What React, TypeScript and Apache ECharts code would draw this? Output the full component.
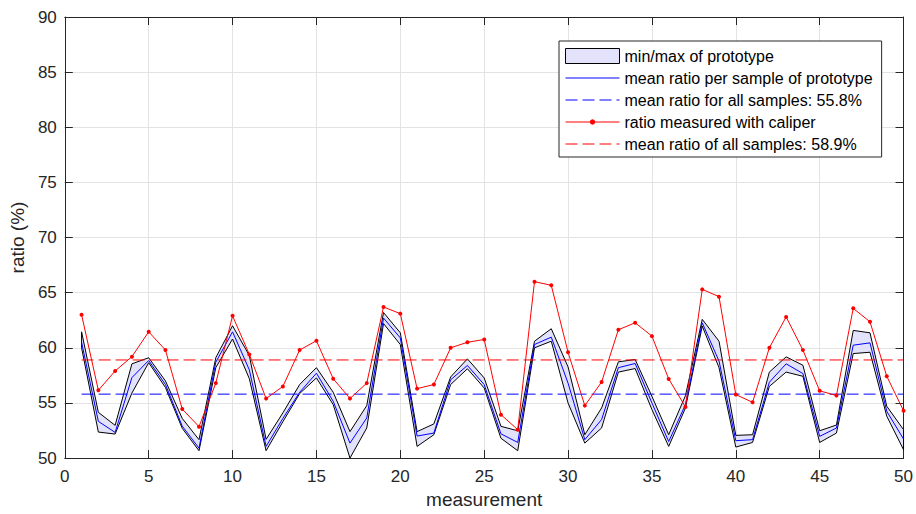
import React, { useEffect, useRef } from "react";
import * as echarts from "echarts";

// measurement index
const MEASUREMENT = [
  1, 2, 3, 4, 5, 6, 7, 8, 9, 10, 11, 12, 13, 14, 15, 16, 17, 18, 19, 20, 21, 22, 23, 24, 25,
  26, 27, 28, 29, 30, 31, 32, 33, 34, 35, 36, 37, 38, 39, 40, 41, 42, 43, 44, 45, 46, 47, 48, 49, 50,
];

// prototype: max per sample
const PROTO_MAX = [
  61.45, 54.15, 52.97, 58.55, 59.1, 57.0, 53.6, 51.67, 59.1, 62.0,
  59.3, 51.7, 54.1, 56.67, 58.2, 55.97, 52.4, 54.76, 63.2, 61.36,
  52.4, 53.1, 57.36, 59.0, 57.27, 52.88, 52.48, 60.6, 61.73, 58.27,
  52.12, 54.55, 58.73, 58.94, 55.6, 52.12, 55.67, 62.58, 60.6, 52.06,
  52.12, 57.8, 59.18, 58.42, 52.48, 53.0, 61.58, 61.36, 54.7, 52.58,
];

// prototype: mean per sample
const PROTO_MEAN = [
  60.5, 53.33, 52.33, 57.3, 58.85, 56.67, 52.9, 50.9, 58.7, 61.45,
  58.0, 51.06, 53.6, 55.97, 57.7, 55.15, 51.36, 53.64, 62.7, 60.9,
  52.0, 52.27, 57.1, 58.4, 56.67, 52.2, 51.42, 60.3, 60.97, 56.8,
  51.67, 53.5, 58.2, 58.58, 55.0, 51.5, 54.85, 62.27, 58.8, 51.58,
  51.67, 56.88, 58.55, 57.67, 51.97, 52.73, 60.24, 60.45, 54.24, 51.73,
];

// prototype: min per sample
const PROTO_MIN = [
  60.0, 52.36, 52.18, 55.9, 58.65, 56.4, 52.7, 50.67, 58.2, 60.8,
  57.2, 50.67, 53.3, 55.85, 57.27, 54.85, 50.0, 52.73, 62.2, 60.3,
  51.06, 52.12, 56.67, 58.1, 56.36, 51.8, 50.67, 60.0, 60.6, 55.0,
  51.36, 52.73, 57.8, 58.12, 54.4, 51.06, 54.55, 61.97, 58.2, 51.0,
  51.42, 56.5, 57.8, 57.42, 51.42, 52.27, 59.48, 59.6, 53.8, 50.76,
];

// caliper measurement
const CALIPER = [
  63.0, 56.15, 57.9, 59.2, 61.45, 59.8, 54.45, 52.85, 56.8, 62.9,
  59.4, 55.4, 56.5, 59.8, 60.64, 57.2, 55.4, 56.8, 63.7, 63.1,
  56.3, 56.67, 60.0, 60.5, 60.76, 53.94, 52.58, 66.0, 65.67, 59.6,
  54.76, 56.9, 61.64, 62.27, 61.06, 57.18, 54.64, 65.3, 64.64, 55.76,
  55.06, 60.0, 62.8, 59.8, 56.1, 55.67, 63.58, 62.36, 57.42, 54.3,
];

const MEAN_PROTO_ALL = 55.8;
const MEAN_CALIPER_ALL = 58.9;

const X_TICKS = { min: 0, max: 50, interval: 5 };
const Y_TICKS = { min: 50, max: 90, interval: 5 };

const NAMES = {
  band: "min/max of prototype",
  mean: "mean ratio per sample of prototype",
  meanAll: "mean ratio for all samples: 55.8%",
  caliper: "ratio measured with caliper",
  caliperAll: "mean ratio of all samples: 58.9%",
};

const FONT = "'Liberation Sans', Arial, Helvetica, sans-serif";
const AXIS_COLOR = "#262626";
const GRID_COLOR = "#e3e3e3";
const FILL = "#e2e3fa";
const DASH = [12, 5];

const LINE_ICON = "path://M0,0M0,7.5L54,7.5M54,15";
const DOT_ICON =
  "path://M0,0M0,7.5L54,7.5M54,15M29.2,7.5A2.2,2.2,0,1,1,24.8,7.5A2.2,2.2,0,1,1,29.2,7.5Z";

export default function App() {
  const ref = useRef<HTMLDivElement>(null);

  useEffect(() => {
    if (!ref.current) return;
    const chart = echarts.init(ref.current, undefined, { renderer: "svg" });

    const pairs = (ys: number[]) => MEASUREMENT.map((x, i) => [x, ys[i]]);
    const bandData = MEASUREMENT.map((x, i) => [x, PROTO_MIN[i], PROTO_MAX[i]]);
    const first = MEASUREMENT[0];
    const last = MEASUREMENT[MEASUREMENT.length - 1];

    const axisCommon = {
      axisLine: { show: true, onZero: false, lineStyle: { color: AXIS_COLOR, width: 1 } },
      axisTick: { show: true, inside: true, length: 8, lineStyle: { color: AXIS_COLOR, width: 1 } },
    };

    chart.setOption({
      animation: false,
      textStyle: { fontFamily: FONT },
      grid: { left: 64, right: 12, top: 17, bottom: 55, containLabel: false },
      xAxis: [
        {
          type: "value",
          ...X_TICKS,
          position: "bottom",
          ...axisCommon,
          axisLabel: { color: AXIS_COLOR, fontSize: 17, margin: 10, fontFamily: FONT },
          splitLine: { show: true, lineStyle: { color: GRID_COLOR, width: 1 } },
          name: "measurement",
          nameLocation: "middle",
          nameGap: 31,
          nameTextStyle: { color: AXIS_COLOR, fontSize: 19, fontFamily: FONT },
        },
        {
          type: "value",
          ...X_TICKS,
          position: "top",
          ...axisCommon,
          axisLabel: { show: false },
          splitLine: { show: false },
        },
      ],
      yAxis: [
        {
          type: "value",
          ...Y_TICKS,
          position: "left",
          ...axisCommon,
          axisLabel: { color: AXIS_COLOR, fontSize: 17, margin: 8, fontFamily: FONT },
          splitLine: { show: true, lineStyle: { color: GRID_COLOR, width: 1 } },
          name: "ratio (%)",
          nameLocation: "middle",
          nameGap: 33,
          nameTextStyle: { color: AXIS_COLOR, fontSize: 19, fontFamily: FONT },
        },
        {
          type: "value",
          ...Y_TICKS,
          position: "right",
          ...axisCommon,
          axisLabel: { show: false },
          splitLine: { show: false },
        },
      ],
      legend: {
        orient: "vertical",
        left: 559,
        top: 41,
        padding: [7, 9, 5, 6],
        itemGap: 6,
        itemWidth: 54,
        itemHeight: 15,
        backgroundColor: "#ffffff",
        borderColor: AXIS_COLOR,
        borderWidth: 1,
        borderRadius: 0,
        selectedMode: false,
        textStyle: { color: "#000", fontSize: 16, fontFamily: FONT },
        data: [
          {
            name: NAMES.band,
            icon: "rect",
            itemStyle: { color: FILL, borderColor: "#000", borderWidth: 1, opacity: 1 },
          },
          {
            name: NAMES.mean,
            icon: LINE_ICON,
            itemStyle: { color: "#0000ff", borderColor: "#0000ff", borderWidth: 1, opacity: 1 },
          },
          {
            name: NAMES.meanAll,
            icon: LINE_ICON,
            itemStyle: {
              color: "#0000ff",
              borderColor: "#0000ff",
              borderWidth: 1,
              borderType: DASH,
              opacity: 1,
            },
          },
          {
            name: NAMES.caliper,
            icon: DOT_ICON,
            itemStyle: { color: "#ff0000", borderColor: "#ff0000", borderWidth: 1, opacity: 1 },
          },
          {
            name: NAMES.caliperAll,
            icon: LINE_ICON,
            itemStyle: {
              color: "#ff0000",
              borderColor: "#ff0000",
              borderWidth: 1,
              borderType: DASH,
              opacity: 1,
            },
          },
        ],
      },
      series: [
        {
          name: NAMES.band,
          type: "custom",
          data: bandData,
          encode: { x: 0, y: [1, 2] },
          itemStyle: { color: FILL, borderColor: "#000" },
          z: 2,
          silent: true,
          renderItem: (params: any, api: any) => {
            if (params.dataIndex !== 0) return null;
            const pts: number[][] = [];
            for (let i = 0; i < bandData.length; i++) {
              pts.push(api.coord([bandData[i][0], bandData[i][2]]));
            }
            for (let i = bandData.length - 1; i >= 0; i--) {
              pts.push(api.coord([bandData[i][0], bandData[i][1]]));
            }
            return {
              type: "polygon",
              shape: { points: pts },
              style: { fill: FILL, stroke: "#000", lineWidth: 1, lineJoin: "miter" },
            };
          },
        },
        {
          name: NAMES.mean,
          type: "line",
          data: pairs(PROTO_MEAN),
          symbol: "none",
          lineStyle: { color: "#0000ff", width: 1 },
          itemStyle: { color: "#0000ff" },
          z: 3,
        },
        {
          name: NAMES.meanAll,
          type: "line",
          data: [
            [first, MEAN_PROTO_ALL],
            [last, MEAN_PROTO_ALL],
          ],
          symbol: "none",
          lineStyle: { color: "#0000ff", width: 1, type: DASH },
          itemStyle: { color: "#0000ff" },
          z: 4,
        },
        {
          name: NAMES.caliper,
          type: "line",
          data: pairs(CALIPER),
          symbol: "circle",
          symbolSize: 4,
          lineStyle: { color: "#ff0000", width: 1 },
          itemStyle: { color: "#ff0000" },
          z: 5,
        },
        {
          name: NAMES.caliperAll,
          type: "line",
          data: [
            [first, MEAN_CALIPER_ALL],
            [last, MEAN_CALIPER_ALL],
          ],
          symbol: "none",
          lineStyle: { color: "#ff0000", width: 1, type: DASH },
          itemStyle: { color: "#ff0000" },
          z: 5,
        },
      ],
    });

    return () => chart.dispose();
  }, []);

  return (
    <div
      ref={ref}
      style={{ position: "absolute", left: 0, top: 0, width: 916, height: 514, background: "#fff" }}
    />
  );
}
